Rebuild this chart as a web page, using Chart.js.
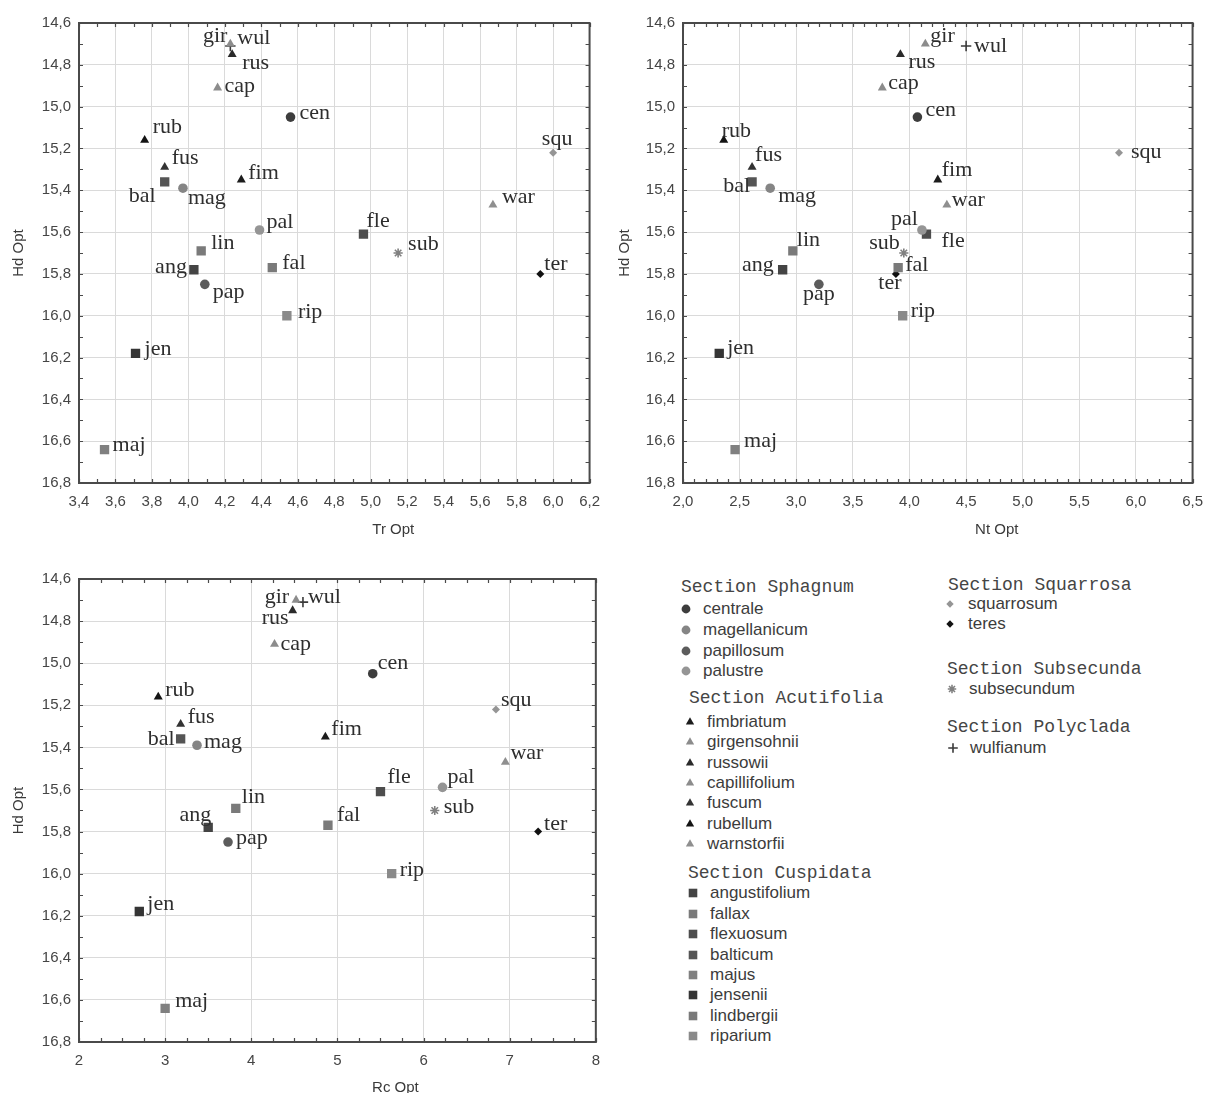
<!DOCTYPE html>
<html>
<head>
<meta charset="utf-8">
<script src="https://cdn.jsdelivr.net/npm/chart.js@4.4.0/dist/chart.umd.min.js"></script>
<style>
  html, body { margin: 0; padding: 0; background: #fff; }
  #page { position: relative; width: 1213px; height: 1093px; overflow: hidden; }
  #page canvas.panel { position: absolute; }
  .lg-title { position: absolute; font: 18px "Liberation Mono", monospace; color: #454545; line-height: 20px; white-space: pre; }
  .lg-item { position: absolute; font: 17px "Liberation Sans", Arial, sans-serif; color: #3c3c3c; line-height: 20px; white-space: nowrap; }
  .lg-mark { position: absolute; }
</style>
</head>
<body>
<div id="page">
  <canvas id="chartTr" class="panel" width="610" height="548" style="left:0;top:0"></canvas>
  <canvas id="chartNt" class="panel" width="603" height="548" style="left:610px;top:0"></canvas>
  <canvas id="chartRc" class="panel" width="610" height="537" style="left:0;top:556px"></canvas>
  <div id="legend"></div>
</div>
<script>
// species codes used as point labels, full names for the legend
const codes = ['cen', 'mag', 'pap', 'pal', 'fim', 'gir', 'rus', 'cap', 'fus', 'rub', 'war',
  'ang', 'fal', 'fle', 'bal', 'maj', 'jen', 'lin', 'rip', 'squ', 'ter', 'sub', 'wul'];
const species = ['centrale', 'magellanicum', 'papillosum', 'palustre',
  'fimbriatum', 'girgensohnii', 'russowii', 'capillifolium', 'fuscum', 'rubellum', 'warnstorfii',
  'angustifolium', 'fallax', 'flexuosum', 'balticum', 'majus', 'jensenii', 'lindbergii', 'riparium',
  'squarrosum', 'teres', 'subsecundum', 'wulfianum'];
const sectionNames = ['Sphagnum', 'Acutifolia', 'Cuspidata', 'Squarrosa', 'Subsecunda', 'Polyclada'];
const sectionOf = [0, 0, 0, 0, 1, 1, 1, 1, 1, 1, 1, 2, 2, 2, 2, 2, 2, 2, 2, 3, 3, 4, 5];

// optima
const hdOpt = [15.05, 15.39, 15.85, 15.59, 15.35, 14.70, 14.75, 14.91, 15.29, 15.16, 15.47,
  15.78, 15.77, 15.61, 15.36, 16.64, 16.18, 15.69, 16.00, 15.22, 15.80, 15.70, 14.71];
const trOpt = [4.56, 3.97, 4.09, 4.39, 4.29, 4.23, 4.24, 4.16, 3.87, 3.76, 5.67,
  4.03, 4.46, 4.96, 3.87, 3.54, 3.71, 4.07, 4.54, 6.00, 5.93, 5.15, 4.23];
const ntOpt = [4.07, 2.77, 3.20, 4.11, 4.25, 4.14, 3.92, 3.76, 2.61, 2.36, 4.33,
  2.88, 3.90, 4.15, 2.61, 2.46, 2.32, 2.97, 3.94, 5.85, 3.88, 3.95, 4.50];
const rcOpt = [5.41, 3.37, 3.73, 6.22, 4.86, 4.52, 4.48, 4.27, 3.18, 2.92, 6.95,
  3.50, 4.89, 5.50, 3.18, 3.00, 2.70, 3.82, 5.63, 6.84, 7.33, 6.13, 4.60];

// marker look: one shape per section, grey level per species
const sectionShape = ['circle', 'triangle', 'rect', 'rectRot', 'star', 'cross'];
const shapeRadius = { circle: 4.8, triangle: 5.2, rect: 6.6, rectRot: 4, star: 4.6, cross: 5.2 };
const markerColor = ['#3d3d3d', '#858585', '#5c5c5c', '#959595',
  '#1c1c1c', '#8c8c8c', '#2a2a2a', '#8c8c8c', '#333333', '#141414', '#8f8f8f',
  '#444444', '#7a7a7a', '#4d4d4d', '#555555', '#808080', '#353535', '#7a7a7a', '#8a8a8a',
  '#959595', '#111111', '#808080', '#3a3a3a'];

// label placement next to each point: [dx, dy, align]
const labelsTr = [[9, -4, 'left'], [5, 10, 'left'], [8, 8, 'left'], [7, -8, 'left'],
  [7, -7, 'left'], [-3, -8, 'right'], [10, 9, 'left'], [7, -2, 'left'], [7, -9, 'left'], [8, -13, 'left'], [9, -8, 'left'],
  [-7, -3, 'right'], [10, -4, 'left'], [3, -13, 'left'], [-9, 14, 'right'], [8, -4, 'left'], [9, -4, 'left'],
  [10, -8, 'left'], [11, -4, 'left'], [4, -13, 'center'], [4, -10, 'left'], [10, -9, 'left'], [7, -8, 'left']];
const labelsNt = [[8, -7, 'left'], [8, 8, 'left'], [0, 10, 'center'], [-4, -11, 'right'],
  [4, -10, 'left'], [5, -8, 'left'], [8, 8, 'left'], [6, -5, 'left'], [3, -12, 'left'], [-2, -9, 'left'], [5, -5, 'left'],
  [-9, -5, 'right'], [7, -2, 'left'], [15, 7, 'left'], [-2, 4, 'right'], [9, -8, 'left'], [8, -5, 'left'],
  [4, -11, 'left'], [8, -5, 'left'], [12, 0, 'left'], [-6, 9, 'center'], [-4, -10, 'right'], [8, 0, 'left']];
const labelsRc = [[5, -10, 'left'], [7, -3, 'left'], [8, -4, 'left'], [5, -10, 'left'],
  [6, -8, 'left'], [-7, -3, 'right'], [-4, 8, 'right'], [6, 0, 'left'], [7, -7, 'left'], [7, -7, 'left'], [5, -9, 'left'],
  [3, -12, 'right'], [9, -10, 'left'], [7, -14, 'left'], [-6, 0, 'right'], [10, -7, 'left'], [8, -7, 'left'],
  [6, -11, 'left'], [8, -3, 'left'], [5, -9, 'left'], [6, -7, 'left'], [9, -3, 'left'], [5, -5, 'left']];

const tickFont = { family: '"Liberation Sans", Arial, sans-serif', size: 15 };
const tickColor = '#454545';

function styleOf(i) {
  const shape = sectionShape[sectionOf[i]];
  const stroked = shape === 'star' || shape === 'cross';
  return {
    pointStyle: shape,
    radius: shapeRadius[shape],
    color: markerColor[i],
    borderWidth: stroked ? 1.6 : 0
  };
}

// frame with small inward ticks on all four sides
function framePlugin(xMinor, yMinor) {
  return {
    id: 'frame',
    beforeDatasetsDraw(chart) {
      const { ctx, chartArea: a, scales: { x, y } } = chart;
      ctx.save();
      ctx.strokeStyle = '#4a4a4a';
      ctx.lineWidth = 1.2;
      ctx.beginPath();
      const nx = Math.round((x.max - x.min) / xMinor);
      for (let k = 0; k <= nx; k++) {
        const px = Math.round(x.getPixelForValue(x.min + k * xMinor)) + 0.5;
        ctx.moveTo(px, a.top); ctx.lineTo(px, a.top + 4);
        ctx.moveTo(px, a.bottom); ctx.lineTo(px, a.bottom - 4);
      }
      const ny = Math.round((y.max - y.min) / yMinor);
      for (let k = 0; k <= ny; k++) {
        const py = Math.round(y.getPixelForValue(y.min + k * yMinor)) + 0.5;
        ctx.moveTo(a.left, py); ctx.lineTo(a.left + 4, py);
        ctx.moveTo(a.right, py); ctx.lineTo(a.right - 4, py);
      }
      ctx.stroke();
      ctx.lineWidth = 2;
      ctx.strokeRect(a.left, a.top, a.right - a.left, a.bottom - a.top);
      ctx.restore();
    }
  };
}

function labelPlugin(offsets) {
  return {
    id: 'pointLabels',
    afterDatasetsDraw(chart) {
      const ctx = chart.ctx;
      ctx.save();
      ctx.font = '22px "Liberation Serif", "Times New Roman", serif';
      ctx.fillStyle = '#2e2e2e';
      ctx.textBaseline = 'middle';
      chart.data.datasets.forEach((ds, i) => {
        const pt = chart.getDatasetMeta(i).data[0];
        const [dx, dy, align] = offsets[i];
        ctx.textAlign = align;
        ctx.fillText(codes[i], pt.x + dx, pt.y + dy);
      });
      ctx.restore();
    }
  };
}

// x axis caption sits right of the plot centre
function captionPlugin(text, shift, y) {
  return {
    id: 'xCaption',
    afterDraw(chart) {
      const { ctx, chartArea: a } = chart;
      ctx.save();
      ctx.font = '15px "Liberation Sans", Arial, sans-serif';
      ctx.fillStyle = '#3a3a3a';
      ctx.textAlign = 'center';
      ctx.textBaseline = 'middle';
      ctx.fillText(text, (a.left + a.right) / 2 + shift, y);
      ctx.restore();
    }
  };
}

function makePanel(id, xValues, cfg) {
  const datasets = species.map((name, i) => {
    const s = styleOf(i);
    return {
      label: name,
      data: [{ x: xValues[i], y: hdOpt[i] }],
      pointStyle: s.pointStyle,
      pointRadius: s.radius,
      backgroundColor: s.color,
      borderColor: s.color,
      borderWidth: s.borderWidth
    };
  });
  const fmt = v => v.toFixed(cfg.decimals).replace('.', ',');
  return new Chart(document.getElementById(id), {
    type: 'scatter',
    data: { datasets },
    plugins: [framePlugin(cfg.xMinor, 0.1), labelPlugin(cfg.labels), captionPlugin(cfg.title, cfg.captionShift, cfg.captionY)],
    options: {
      responsive: false,
      animation: false,
      layout: { padding: { left: 0, top: 23, right: cfg.padRight, bottom: 0 } },
      plugins: { legend: { display: false }, tooltip: { enabled: false } },
      scales: {
        x: {
          type: 'linear', min: cfg.min, max: cfg.max,
          ticks: { stepSize: cfg.step, callback: fmt, font: tickFont, color: tickColor, padding: 10, maxRotation: 0, autoSkip: false },
          grid: { color: '#dadada', drawTicks: false },
          border: { display: false },
          afterFit: s => { s.height = cfg.xHeight; }
        },
        y: {
          type: 'linear', reverse: true, min: 14.6, max: 16.8,
          ticks: { stepSize: 0.2, callback: v => v.toFixed(1).replace('.', ','), font: tickFont, color: tickColor, padding: 8 },
          grid: { color: '#dadada', drawTicks: false },
          border: { display: false },
          title: { display: true, text: 'Hd Opt', color: '#3a3a3a', font: { family: '"Liberation Sans", Arial, sans-serif', size: 15 }, padding: { top: cfg.yTitlePad, bottom: 0 } },
          afterFit: s => { s.width = cfg.yWidth; }
        }
      }
    }
  });
}

makePanel('chartTr', trOpt, { title: 'Tr Opt', min: 3.4, max: 6.2, step: 0.2, xMinor: 0.1, decimals: 1,
  labels: labelsTr, padRight: 15, yWidth: 79, xHeight: 65, yTitlePad: 10, captionShift: 59, captionY: 530 });
makePanel('chartNt', ntOpt, { title: 'Nt Opt', min: 2.0, max: 6.5, step: 0.5, xMinor: 0.1, decimals: 1,
  labels: labelsNt, padRight: 14, yWidth: 73, xHeight: 65, yTitlePad: 6, captionShift: 59, captionY: 530 });
makePanel('chartRc', rcOpt, { title: 'Rc Opt', min: 2, max: 8, step: 1, xMinor: 0.25, decimals: 0,
  labels: labelsRc, padRight: 8, yWidth: 79, xHeight: 51, yTitlePad: 10, captionShift: 58, captionY: 532 });

// legend blocks: heading position, marker column, text column, first row and row step
const legendLayout = [
  { left: 681, top: 587, markX: 686, textX: 703, first: 609.3, step: 20.6 },
  { left: 689, top: 698, markX: 690, textX: 707, first: 721.7, step: 20.4 },
  { left: 688, top: 873, markX: 693, textX: 710, first: 893.3, step: 20.4 },
  { left: 948, top: 585, markX: 950, textX: 968, first: 604.3, step: 20.0 },
  { left: 947, top: 669, markX: 952, textX: 969, first: 689.3, step: 20.0 },
  { left: 947, top: 727, markX: 953, textX: 970, first: 747.7, step: 20.0 }
];

const legend = document.getElementById('legend');
sectionNames.forEach((sec, g) => {
  const L = legendLayout[g];
  const head = document.createElement('div');
  head.className = 'lg-title';
  head.textContent = 'Section ' + sec;
  head.style.left = L.left + 'px';
  head.style.top = (L.top - 10) + 'px';
  legend.appendChild(head);
  let row = 0;
  species.forEach((name, i) => {
    if (sectionOf[i] !== g) return;
    const cy = L.first + row * L.step;
    const item = document.createElement('div');
    item.className = 'lg-item';
    item.textContent = name;
    item.style.left = L.textX + 'px';
    item.style.top = (cy - 10) + 'px';
    legend.appendChild(item);
    const c = document.createElement('canvas');
    c.className = 'lg-mark';
    c.width = 16; c.height = 16;
    c.style.left = (L.markX - 8) + 'px';
    c.style.top = (Math.round(cy) - 8) + 'px';
    legend.appendChild(c);
    const s = styleOf(i);
    const ctx = c.getContext('2d');
    ctx.fillStyle = s.color;
    ctx.strokeStyle = s.color;
    ctx.lineWidth = s.borderWidth;
    Chart.helpers.drawPoint(ctx, { pointStyle: s.pointStyle, radius: s.radius * 0.92, rotation: 0, borderWidth: s.borderWidth }, 8, 8);
    row++;
  });
});
</script>
</body>
</html>
